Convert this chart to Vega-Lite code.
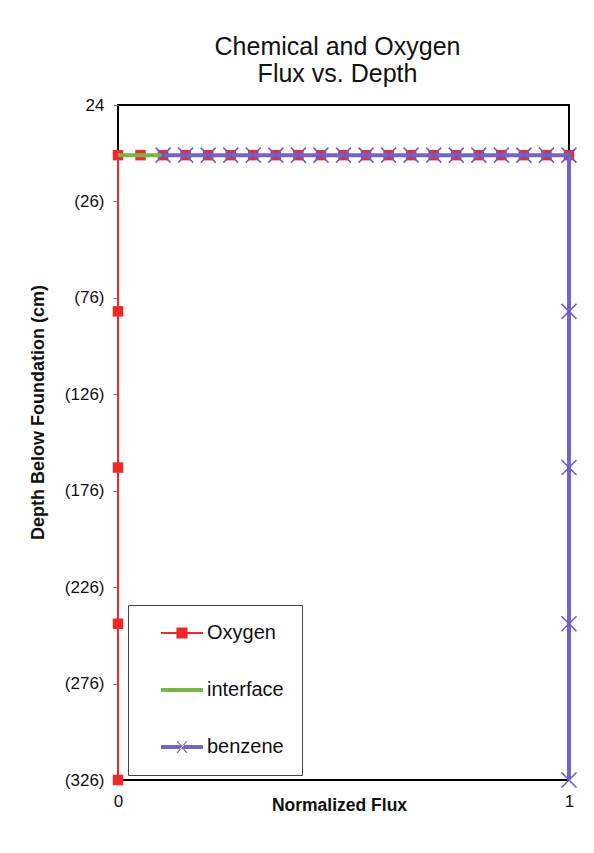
{
  "$schema": "https://vega.github.io/schema/vega-lite/v6.json",
  "width": 451,
  "height": 675,
  "autosize": {"type": "none"},
  "padding": {"left": 118, "top": 105, "right": 25, "bottom": 73},
  "background": "white",
  "config": {
    "font": "Liberation Sans",
    "view": {"stroke": "#000000", "strokeWidth": 2}
  },
  "title": {
    "text": ["Chemical and Oxygen", "Flux vs. Depth"],
    "fontSize": 25,
    "fontWeight": "normal",
    "lineHeight": 27,
    "color": "#111111",
    "anchor": "middle",
    "offset": 9,
    "dx": -6
  },
  "data": {
    "values": [
      {"series": "Oxygen", "x": 0, "y": -326, "i": 0},
      {"series": "Oxygen", "x": 0, "y": -245, "i": 1},
      {"series": "Oxygen", "x": 0, "y": -164, "i": 2},
      {"series": "Oxygen", "x": 0, "y": -83, "i": 3},
      {"series": "Oxygen", "x": 0, "y": -2, "i": 4},
      {"series": "Oxygen", "x": 0.05, "y": -2, "i": 5},
      {"series": "Oxygen", "x": 0.1, "y": -2, "i": 6},
      {"series": "Oxygen", "x": 0.15, "y": -2, "i": 7},
      {"series": "Oxygen", "x": 0.2, "y": -2, "i": 8},
      {"series": "Oxygen", "x": 0.25, "y": -2, "i": 9},
      {"series": "Oxygen", "x": 0.3, "y": -2, "i": 10},
      {"series": "Oxygen", "x": 0.35, "y": -2, "i": 11},
      {"series": "Oxygen", "x": 0.4, "y": -2, "i": 12},
      {"series": "Oxygen", "x": 0.45, "y": -2, "i": 13},
      {"series": "Oxygen", "x": 0.5, "y": -2, "i": 14},
      {"series": "Oxygen", "x": 0.55, "y": -2, "i": 15},
      {"series": "Oxygen", "x": 0.6, "y": -2, "i": 16},
      {"series": "Oxygen", "x": 0.65, "y": -2, "i": 17},
      {"series": "Oxygen", "x": 0.7, "y": -2, "i": 18},
      {"series": "Oxygen", "x": 0.75, "y": -2, "i": 19},
      {"series": "Oxygen", "x": 0.8, "y": -2, "i": 20},
      {"series": "Oxygen", "x": 0.85, "y": -2, "i": 21},
      {"series": "Oxygen", "x": 0.9, "y": -2, "i": 22},
      {"series": "Oxygen", "x": 0.95, "y": -2, "i": 23},
      {"series": "Oxygen", "x": 1, "y": -2, "i": 24},
      {"series": "interface", "x": 0, "y": -2, "i": 0},
      {"series": "interface", "x": 0.1, "y": -2, "i": 1},
      {"series": "benzene", "x": 0.1, "y": -2, "i": 0},
      {"series": "benzene", "x": 0.15, "y": -2, "i": 1},
      {"series": "benzene", "x": 0.2, "y": -2, "i": 2},
      {"series": "benzene", "x": 0.25, "y": -2, "i": 3},
      {"series": "benzene", "x": 0.3, "y": -2, "i": 4},
      {"series": "benzene", "x": 0.35, "y": -2, "i": 5},
      {"series": "benzene", "x": 0.4, "y": -2, "i": 6},
      {"series": "benzene", "x": 0.45, "y": -2, "i": 7},
      {"series": "benzene", "x": 0.5, "y": -2, "i": 8},
      {"series": "benzene", "x": 0.55, "y": -2, "i": 9},
      {"series": "benzene", "x": 0.6, "y": -2, "i": 10},
      {"series": "benzene", "x": 0.65, "y": -2, "i": 11},
      {"series": "benzene", "x": 0.7, "y": -2, "i": 12},
      {"series": "benzene", "x": 0.75, "y": -2, "i": 13},
      {"series": "benzene", "x": 0.8, "y": -2, "i": 14},
      {"series": "benzene", "x": 0.85, "y": -2, "i": 15},
      {"series": "benzene", "x": 0.9, "y": -2, "i": 16},
      {"series": "benzene", "x": 0.95, "y": -2, "i": 17},
      {"series": "benzene", "x": 1, "y": -2, "i": 18},
      {"series": "benzene", "x": 1, "y": -83, "i": 19},
      {"series": "benzene", "x": 1, "y": -164, "i": 20},
      {"series": "benzene", "x": 1, "y": -245, "i": 21},
      {"series": "benzene", "x": 1, "y": -326, "i": 22}
    ]
  },
  "encoding": {
    "x": {
      "field": "x",
      "type": "quantitative",
      "scale": {"domain": [0, 1], "nice": false, "zero": false},
      "axis": {
        "title": "Normalized Flux",
        "values": [0, 1],
        "format": "d",
        "labelFlush": false,
        "domain": false,
        "ticks": false,
        "grid": false,
        "labelFontSize": 17,
        "labelColor": "#111111",
        "labelPadding": 13,
        "titleFontSize": 17.5,
        "titleFontWeight": "bold",
        "titleColor": "#111111",
        "titlePadding": -13,
        "titleX": 221
      }
    },
    "y": {
      "field": "y",
      "type": "quantitative",
      "scale": {"domain": [-326, 24], "nice": false, "zero": false},
      "axis": {
        "title": "Depth Below  Foundation (cm)",
        "values": [24, -26, -76, -126, -176, -226, -276, -326],
        "labelExpr": "datum.value < 0 ? '(' + abs(datum.value) + ')' : '' + datum.value",
        "domain": false,
        "grid": false,
        "tickSize": 5,
        "tickColor": "#777777",
        "labelFontSize": 17,
        "labelColor": "#111111",
        "labelPadding": 9,
        "titleFontSize": 18,
        "titleFontWeight": "bold",
        "titleColor": "#111111",
        "titlePadding": 17,
        "titleY": 307
      }
    },
    "order": {"field": "i", "type": "quantitative"}
  },
  "layer": [
    {
      "transform": [{"filter": "datum.series === 'Oxygen'"}],
      "mark": {"type": "line", "strokeWidth": 2, "clip": false},
      "encoding": {
        "color": {
          "field": "series",
          "type": "nominal",
          "scale": {"domain": ["Oxygen", "interface", "benzene"], "range": ["#f02828", "#78b446", "#7365c8"]},
          "legend": {
            "title": null,
            "orient": "none",
            "legendX": 10,
            "legendY": 500,
            "padding": 18,
            "symbolSize": 196,
            "symbolOffset": 26,
            "labelOffset": 15,
            "rowPadding": 37,
            "labelFontSize": 20,
            "labelColor": "#111111",
            "fillColor": "white",
            "strokeColor": "#444444",
            "encode": {
              "symbols": {
                "update": {
                  "shape": {"signal": "datum.value === 'Oxygen' ? 'M-3,-0.15H3V0.15H-3Z M-0.8,-0.8H0.8V0.8H-0.8Z' : datum.value === 'interface' ? 'M-3,-0.3H3V0.3H-3Z' : 'M-3,-0.28H3V0.28H-3Z M-0.8,-0.85L-0.6,-0.85L0.8,0.85L0.6,0.85Z M-0.8,0.85L-0.6,0.85L0.8,-0.85L0.6,-0.85Z'"},
                  "fill": {"signal": "datum.value === 'Oxygen' ? '#f02828' : datum.value === 'interface' ? '#78b446' : '#7365c8'"},
                  "stroke": {"value": "transparent"},
                  "strokeWidth": {"value": 0},
                  "opacity": {"value": 1},
                  "fillOpacity": {"value": 1}
                }
              }
            }
          }
        }
      }
    },
    {
      "transform": [{"filter": "datum.series === 'Oxygen'"}],
      "mark": {"type": "point", "shape": "square", "filled": true, "size": 110, "color": "#f02828", "opacity": 1, "clip": false}
    },
    {
      "transform": [{"filter": "datum.series === 'interface'"}],
      "mark": {"type": "line", "strokeWidth": 4, "color": "#78b446", "clip": false}
    },
    {
      "transform": [{"filter": "datum.series === 'benzene'"}],
      "mark": {"type": "line", "strokeWidth": 4, "color": "#7365c8", "clip": false}
    },
    {
      "transform": [{"filter": "datum.series === 'benzene'"}],
      "mark": {"type": "point", "shape": "M-1,-1L1,1M-1,1L1,-1", "filled": false, "size": 225, "strokeWidth": 1.5, "color": "#6a5cc8", "opacity": 1, "clip": false}
    }
  ]
}
